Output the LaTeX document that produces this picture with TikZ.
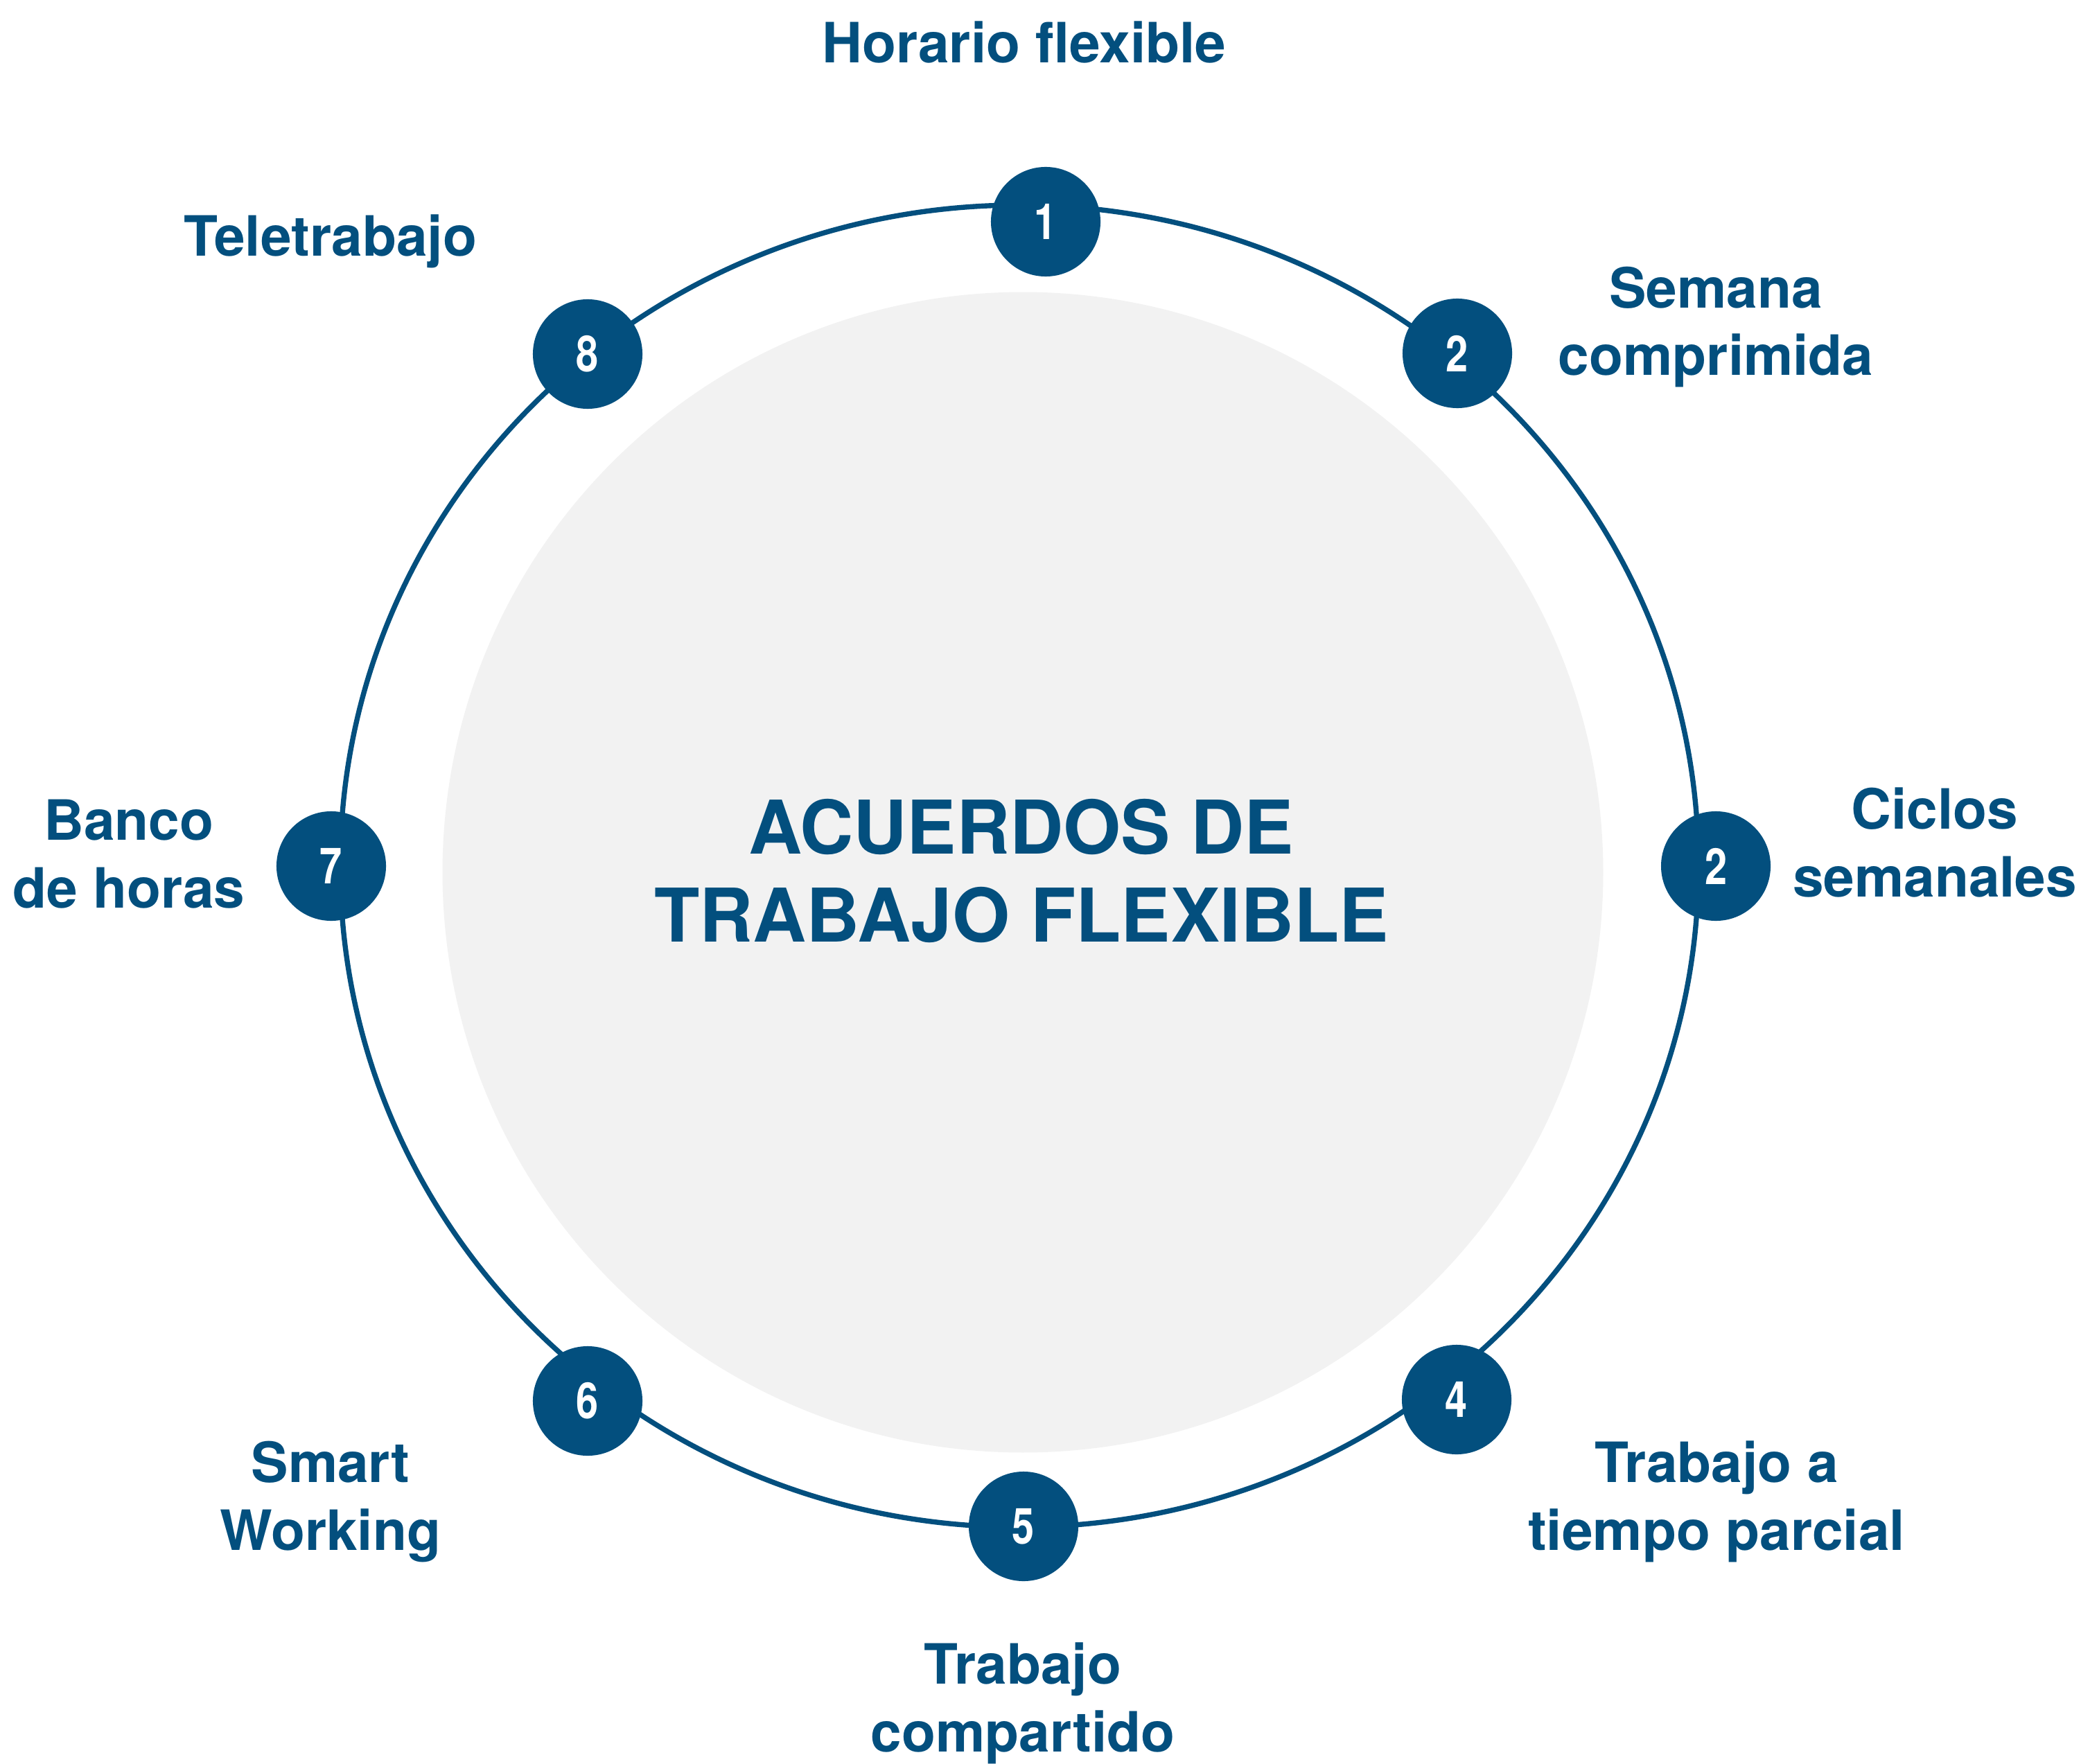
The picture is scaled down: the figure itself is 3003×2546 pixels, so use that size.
\documentclass[tikz,border=0pt]{standalone}
\usepackage{fontspec}
\setmainfont{TeX Gyre Heros}
\usetikzlibrary{positioning}
\definecolor{acblue}{HTML}{034F7E}
\definecolor{acgray}{HTML}{F2F2F2}
\tikzset{num/.style={circle,fill=acblue,text=white,minimum size=1.58cm,inner sep=0pt,font=\bfseries\fontsize{20.5}{20.5}\selectfont},
         tag/.style={text=acblue,align=center,anchor=base,inner sep=0pt,font=\bfseries\fontsize{22.8}{27.6}\selectfont},
         ring/.style={draw=acblue,line width=2.1pt}
}
\newcommand{\narrownum}[1]{\scalebox{0.8}[1]{#1}}

\begin{document}
\begin{tikzpicture}[x=0.01cm,y=-0.01cm]
\useasboundingbox (0,0) rectangle (3003,2546);

\coordinate (ctr) at (1471,1250);
\node[circle,fill=acgray,minimum size=16.74cm,inner sep=0pt] (core) at (1476,1259) {};
\draw[ring] (ctr) ellipse [x radius=980, y radius=954];

\node[tag,font=\bfseries\fontsize{30.4}{36.1}\selectfont] (title) at (1474,1359) {ACUERDOS DE\\TRABAJO FLEXIBLE};

\node[num] (n1) at (1509,320) {\narrownum{1}};
\node[num] (n2) at (2103,510) {\narrownum{2}};
\node[num] (n3) at (2476,1250) {\narrownum{2}};
\node[num] (n4) at (2102,2020) {\narrownum{4}};
\node[num] (n5) at (1477,2203) {\narrownum{5}};
\node[num] (n6) at (848,2022) {\narrownum{6}};
\node[num] (n7) at (478,1250) {\narrownum{7}};
\node[num] (n8) at (848,511) {\narrownum{8}};

\node[tag] (horario) at (1478,91) {Horario flexible};
\node[tag] (semana) at (2476,542) {Semana\\comprimida};
\node[tag] (ciclos) at (2792,1294) {Ciclos\\semanales};
\node[tag] (parcial) at (2477,2237) {Trabajo a\\tiempo parcial};
\node[tag] (compartido) at (1476,2528) {Trabajo\\compartido};
\node[tag] (smart) at (477,2237) {Smart\\Working};
\node[tag] (banco) at (186,1310) {Banco\\de horas};
\node[tag] (tele) at (477,370) {Teletrabajo};

\end{tikzpicture}
\end{document}
